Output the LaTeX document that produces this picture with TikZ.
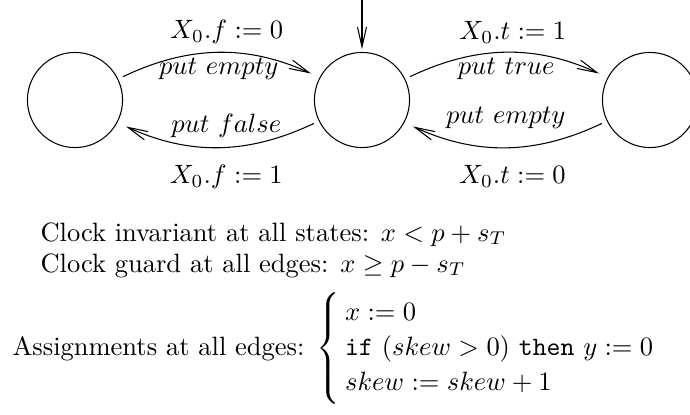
\documentclass[tikz,border=0pt]{standalone}
\usetikzlibrary{positioning,arrows.meta}

\begin{document}
\begin{tikzpicture}[
  x=0.3774pt, y=-0.3774pt,
  state/.style={circle, draw, minimum size=35.9pt, inner sep=0pt},
  arrow/.style={-{Straight Barb[length=7.5pt,width=3.4pt]}},
  edge/.style={arrow, shorten <=2pt, shorten >=3.5pt, bend left=25},
  note/.style={anchor=base west, inner sep=0pt}
]
  \useasboundingbox (0,0) rectangle (690,414);

  % states
  \node[state] (f) at (75,100) {};
  \node[state] (e) at (362,100) {};
  \node[state] (t) at (650,100) {};
  \coordinate[above=19.8pt of e.north] (init);

  % transitions
  \draw[arrow, shorten >=1pt] (init) -- (e);
  \draw[edge] (f.26) to node[above, xshift=3pt] {$X_0.f := 0$}
                        node[below=-1.5pt] {$put\ empty$} (e.152);
  \draw[edge] (e.206) to node[above, xshift=3pt] {$put\ false$}
                         node[below=3.4pt, xshift=3pt] {$X_0.f := 1$} (f.332);
  \draw[edge] (e.26) to node[above, xshift=2.5pt] {$X_0.t := 1$}
                        node[below=-1.5pt] {$put\ true$} (t.152);
  \draw[edge] (t.206) to node[above=3.5pt] {$put\ empty$}
                         node[below=3.4pt, xshift=2.5pt] {$X_0.t := 0$} (e.332);

  % clock constraints and assignments
  \node[note] (inv) at (40,241)
    {Clock invariant at all states: $x < p + s_T$};
  \node[note] (grd) at ([yshift=-11.7pt]inv.base west)
    {Clock guard at all edges: $x \geq p - s_T$};
  \node[note] (asg) at (12,355)
    {Assignments at all edges: $\renewcommand{\arraystretch}{1.1}%
    \left\{\rule[-18.5pt]{0pt}{42pt}\begin{array}{@{\hspace{2pt}}l@{}}
      x := 0\\
      \texttt{if}\ (skew > 0)\ \texttt{then}\ y := 0\\
      skew := skew + 1
    \end{array}\right.$};
\end{tikzpicture}
\end{document}
